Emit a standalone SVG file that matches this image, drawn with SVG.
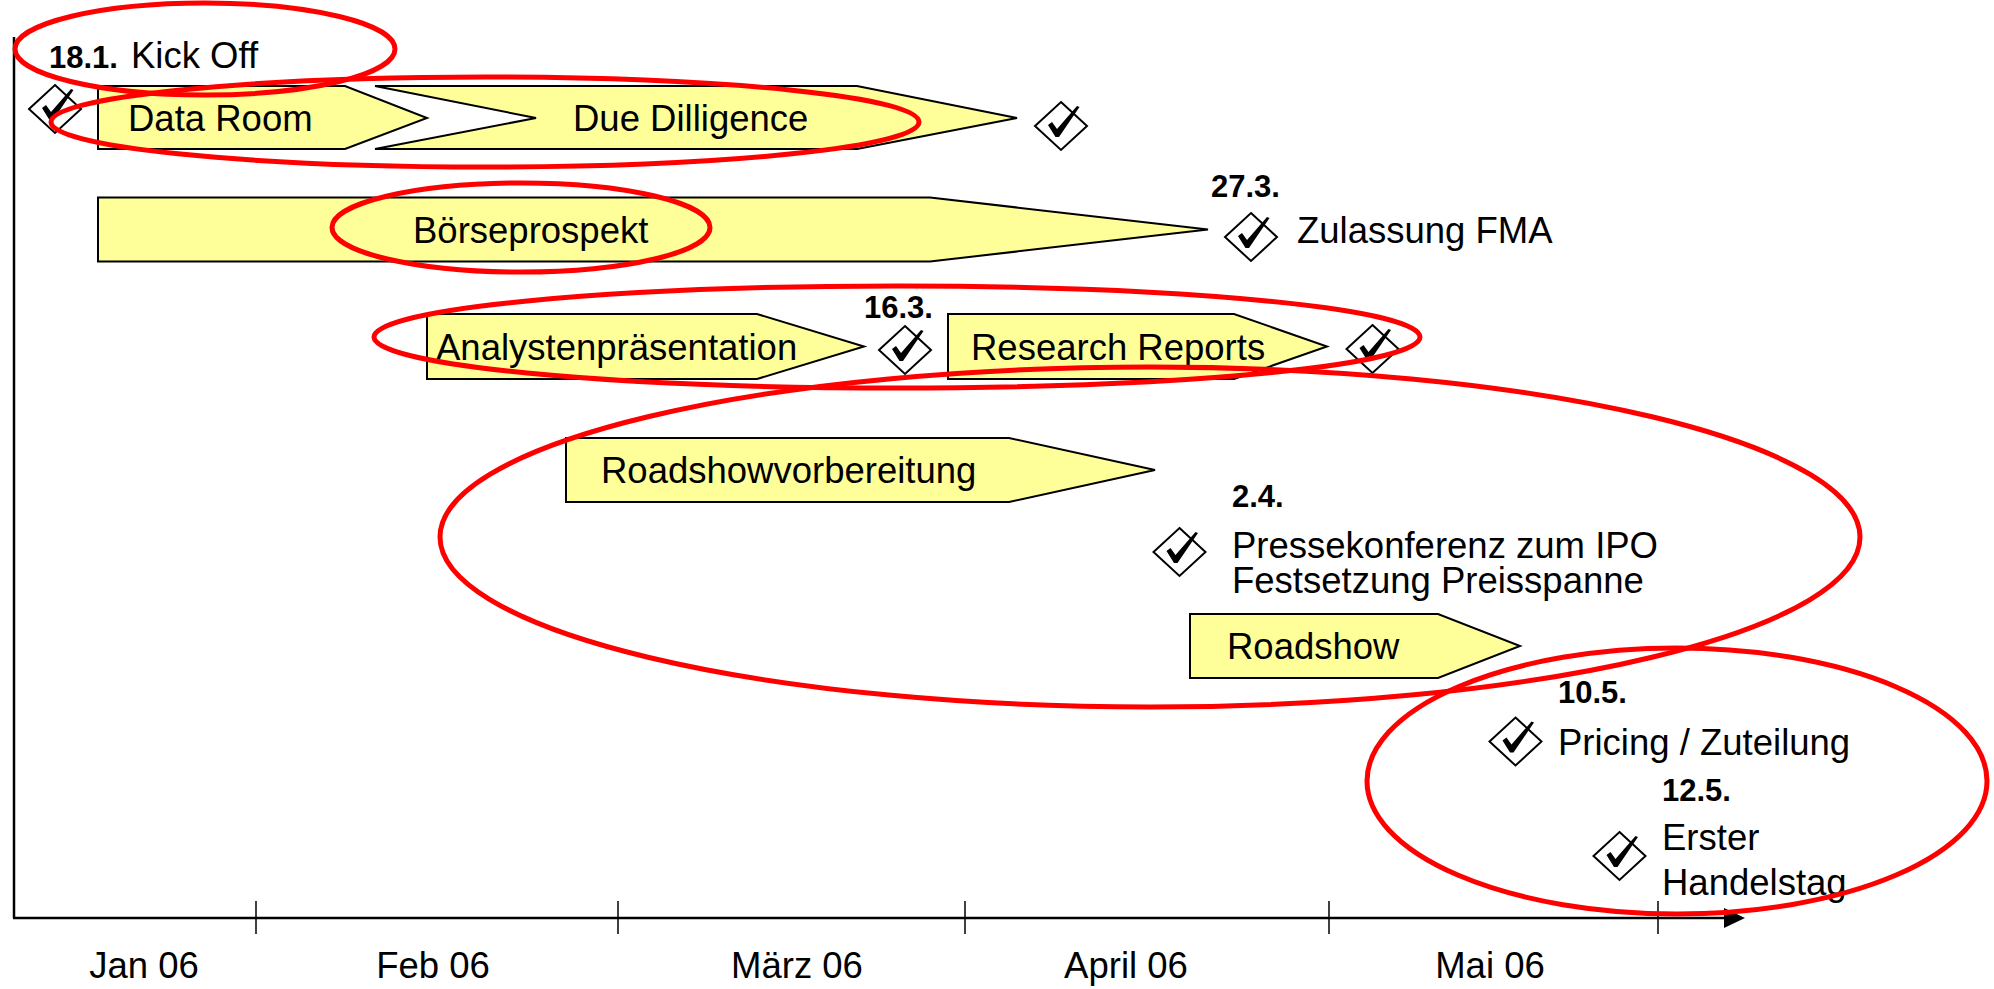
<svg xmlns="http://www.w3.org/2000/svg" width="1994" height="989" viewBox="0 0 1994 989">
<style>
  .bar { fill: #FFFF99; stroke: #000; stroke-width: 2; stroke-linejoin: miter; }
  .dia { fill: none; stroke: #000; stroke-width: 2; }
  .tick { fill: #000; }
  .t { font-family: "Liberation Sans", Arial, sans-serif; font-size: 36.5px; fill: #000; }
  .b { font-family: "Liberation Sans", Arial, sans-serif; font-size: 31px; font-weight: bold; fill: #000; }
  .m { font-family: "Liberation Sans", Arial, sans-serif; font-size: 36.5px; fill: #000; text-anchor: middle; }
  .ax { stroke: #000; stroke-width: 2.5; fill: none; }
  .tk { stroke: #000; stroke-width: 1.5; }
  .red { fill: none; stroke: #FF0000; stroke-width: 5; }
</style>
<defs>
  <g id="check">
    <polygon class="dia" points="0,-24 26,0 0,24 -26,0"/>
    <polygon class="tick" points="-13,-1 -9,-4 -4,3 16,-20 18.5,-19 -2,11 -5.5,11"/>
  </g>
</defs>
<rect width="1994" height="989" fill="#fff"/>

<g id="axis">
  <line class="ax" x1="14" y1="37" x2="14" y2="918"/>
  <line class="ax" x1="13" y1="918" x2="1726" y2="918"/>
  <polygon points="1724,908 1745,918 1724,928" fill="#000"/>
  <line class="tk" x1="256" y1="901" x2="256" y2="934"/>
  <line class="tk" x1="618" y1="901" x2="618" y2="934"/>
  <line class="tk" x1="965" y1="901" x2="965" y2="934"/>
  <line class="tk" x1="1329" y1="901" x2="1329" y2="934"/>
  <line class="tk" x1="1658" y1="901" x2="1658" y2="934"/>
  <text class="m" x="144" y="978">Jan 06</text>
  <text class="m" x="433" y="978">Feb 06</text>
  <text class="m" x="797" y="978">März 06</text>
  <text class="m" x="1126" y="978">April 06</text>
  <text class="m" x="1490" y="978">Mai 06</text>
</g>

<g id="connectors"></g>

<g id="kickoff">
  <use href="#check" x="55" y="109"/>
  <text class="b" x="49" y="68">18.1.</text>
  <text class="t" x="131" y="68">Kick Off</text>
</g>

<g id="dataroom">
  <polygon class="bar" points="98,86 345,86 427,118 345,149 98,149"/>
  <text class="t" x="128" y="131">Data Room</text>
</g>

<g id="duediligence">
  <polygon class="bar" points="375,86 857,86 1017,118 857,149 375,149 536,118"/>
  <text class="t" x="573" y="131">Due Dilligence</text>
  <use href="#check" x="1061" y="126"/>
</g>

<g id="boerseprospekt">
  <polygon class="bar" points="98,197.5 930,197.5 1208,229.5 930,261.5 98,261.5"/>
  <text class="t" x="413" y="243">Börseprospekt</text>
</g>

<g id="zulassung">
  <use href="#check" x="1251" y="237"/>
  <text class="b" x="1211" y="197">27.3.</text>
  <text class="t" x="1297" y="243">Zulassung FMA</text>
</g>

<g id="analysten">
  <polygon class="bar" points="427,314 757,314 864,346.5 757,379 427,379"/>
  <text class="t" x="436" y="360">Analystenpräsentation</text>
</g>

<g id="m163">
  <use href="#check" x="905" y="350"/>
  <text class="b" x="864" y="318">16.3.</text>
</g>

<g id="research">
  <polygon class="bar" points="948,314 1234,314 1327,346.5 1234,379 948,379"/>
  <text class="t" x="971" y="360">Research Reports</text>
  <use href="#check" x="1372.5" y="349"/>
</g>

<g id="roadshowvorbereitung">
  <polygon class="bar" points="566,438 1009,438 1155,470 1009,502 566,502"/>
  <text class="t" x="601" y="483">Roadshowvorbereitung</text>
</g>

<g id="pressekonferenz">
  <use href="#check" x="1179.5" y="552"/>
  <text class="b" x="1232" y="507">2.4.</text>
  <text class="t" x="1232" y="558">Pressekonferenz zum IPO</text>
  <text class="t" x="1232" y="593">Festsetzung Preisspanne</text>
</g>

<g id="roadshow">
  <polygon class="bar" points="1190,614 1438,614 1520,646 1438,678 1190,678"/>
  <text class="t" x="1227" y="659">Roadshow</text>
</g>

<g id="pricing">
  <use href="#check" x="1515.5" y="741.5"/>
  <text class="b" x="1558" y="703">10.5.</text>
  <text class="t" x="1558" y="755">Pricing / Zuteilung</text>
</g>

<g id="ersterhandelstag">
  <use href="#check" x="1619.5" y="856"/>
  <text class="b" x="1662" y="801">12.5.</text>
  <text class="t" x="1662" y="850">Erster</text>
  <text class="t" x="1662" y="895">Handelstag</text>
</g>

<g id="highlights">
  <ellipse class="red" cx="205" cy="49" rx="190" ry="46"/>
  <ellipse class="red" cx="485" cy="122" rx="434" ry="45"/>
  <ellipse class="red" cx="521" cy="227.5" rx="189" ry="44.5"/>
  <ellipse class="red" cx="897" cy="337" rx="523" ry="51"/>
  <ellipse class="red" cx="1150" cy="537" rx="710" ry="170"/>
  <ellipse class="red" cx="1677" cy="781" rx="310" ry="133"/>
</g>
</svg>
